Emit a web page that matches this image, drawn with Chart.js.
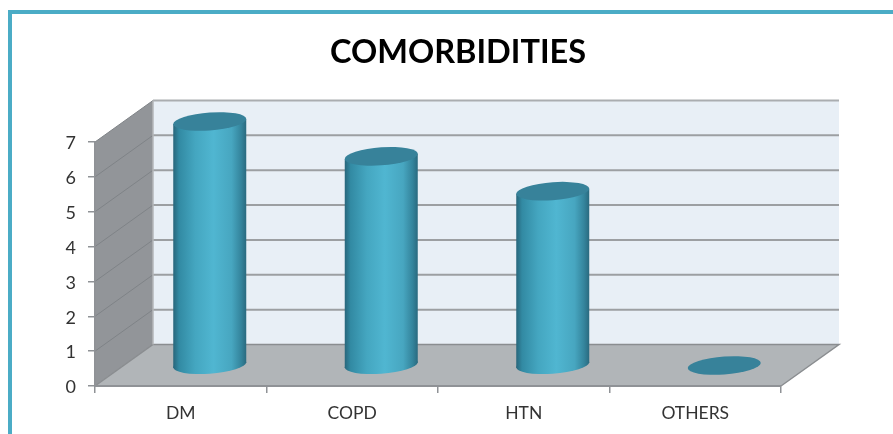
<!DOCTYPE html>
<html>
<head>
<meta charset="utf-8">
<title>COMORBIDITIES</title>
<script src="https://cdn.jsdelivr.net/npm/chart.js@4"></script>
<style>
  html, body { margin: 0; background: #fff; }
  #wrap { position: relative; width: 893px; height: 434px; overflow: hidden; }
  #frame { position: absolute; left: 8px; top: 10px; width: 900px; height: 440px;
           border-left: 4px solid #4bacc6; border-top: 4px solid #4bacc6; }
  #comorbChart { position: absolute; left: 0; top: 0; }
</style>
</head>
<body>
<div id="wrap">
  <div id="frame"></div>
  <canvas id="comorbChart" width="893" height="434"></canvas>
</div>
<script>
const categories = ["DM", "COPD", "HTN", "OTHERS"];
const patientCounts = [7, 6, 5, 0];
const yMax = 7;

// how far the back wall sits behind the axis plane
const DEPTH_X = 58;
const DEPTH_Y = -41.5;
// the cylinders stand half way into the floor, and lean a little
const BAR_X = 29;
const BAR_Y = -20.5;
const BAR_TILT = 0.07;

const CAP_COLOR = "#37829a";

function barGradient(chart, center, halfWidth) {
  const g = chart.ctx.createLinearGradient(center - halfWidth, 0, center + halfWidth, 0);
  g.addColorStop(0, "#28667b");
  g.addColorStop(0.08, "#328aa3");
  g.addColorStop(0.3, "#44a6c0");
  g.addColorStop(0.55, "#50b6d1");
  g.addColorStop(0.8, "#47a6c0");
  g.addColorStop(0.93, "#34849c");
  g.addColorStop(1, "#2a6a7f");
  return g;
}

function ellipse(ctx, x, y, rx, fill) {
  ctx.beginPath();
  ctx.ellipse(x, y, rx, 9, 0, 0, Math.PI * 2);
  ctx.fillStyle = fill;
  ctx.fill();
}

// side wall, back wall and floor, placed from the chart's own scales
const room3d = {
  id: "room3d",
  beforeDraw(chart) {
    const { ctx, chartArea: a, scales: { y } } = chart;
    const bx = DEPTH_X, by = DEPTH_Y;
    ctx.save();

    ctx.fillStyle = "#e8eff6";
    ctx.fillRect(a.left + bx, a.top + by, a.right - a.left, a.bottom - a.top);

    ctx.fillStyle = "#929599";
    ctx.beginPath();
    ctx.moveTo(a.left, a.top);
    ctx.lineTo(a.left + bx, a.top + by);
    ctx.lineTo(a.left + bx, a.bottom + by);
    ctx.lineTo(a.left, a.bottom);
    ctx.closePath();
    ctx.fill();

    ctx.fillStyle = "#b1b5b8";
    ctx.beginPath();
    ctx.moveTo(a.left, a.bottom);
    ctx.lineTo(a.left + bx, a.bottom + by);
    ctx.lineTo(a.right + bx, a.bottom + by);
    ctx.lineTo(a.right, a.bottom);
    ctx.closePath();
    ctx.fill();

    // grid lines run along the side wall and across the back wall
    for (let v = 1; v <= yMax; v++) {
      const py = y.getPixelForValue(v);
      ctx.strokeStyle = "#7f8387";
      ctx.lineWidth = 1;
      ctx.beginPath();
      ctx.moveTo(a.left, py);
      ctx.lineTo(a.left + bx, py + by);
      ctx.stroke();
      ctx.strokeStyle = v === yMax ? "#aaadb0" : "#9c9fa2";
      ctx.lineWidth = 2;
      ctx.beginPath();
      ctx.moveTo(a.left + bx, py + by);
      ctx.lineTo(a.right + bx, py + by);
      ctx.stroke();
    }

    ctx.strokeStyle = "#8a8d90";
    ctx.lineWidth = 1.5;
    ctx.beginPath();
    ctx.moveTo(a.left, a.bottom);
    ctx.lineTo(a.left + bx, a.bottom + by);
    ctx.lineTo(a.right + bx, a.bottom + by);
    ctx.lineTo(a.right, a.bottom);
    ctx.stroke();

    ctx.strokeStyle = "#b4b7ba";
    ctx.lineWidth = 1.5;
    ctx.beginPath();
    ctx.moveTo(a.left + bx, a.bottom + by);
    ctx.lineTo(a.left + bx, a.top + by);
    ctx.stroke();
    ctx.restore();
  },
  // each bar is the library's own element, moved back and leaned, with its two ends added
  beforeDatasetDraw(chart, args) {
    const { ctx } = chart;
    args.meta.data.forEach((bar, i) => {
      const r = bar.width / 2;
      ctx.save();
      ctx.translate(BAR_X, BAR_Y);
      ctx.transform(1, -BAR_TILT, 0, 1, 0, BAR_TILT * bar.x);
      if (patientCounts[i] > 0) {
        ellipse(ctx, bar.x, bar.base, r, barGradient(chart, bar.x, r));
        bar.draw(ctx);
      }
      ellipse(ctx, bar.x, bar.y, r, CAP_COLOR);
      ctx.restore();
    });
    return false;
  },
  // the title is centred over the whole room, not over the axis plane
  afterLayout(chart) {
    chart.titleBlock.left += 135;
  }
};

const config = {
  type: "bar",
  data: {
    labels: categories,
    datasets: [{
      label: "COMORBIDITIES",
      data: patientCounts,
      barPercentage: 0.4257,
      categoryPercentage: 1,
      borderWidth: 0,
      backgroundColor(c) {
        const px = c.chart.scales.x ? c.chart.scales.x.getPixelForValue(c.dataIndex) : NaN;
        if (!Number.isFinite(px)) return CAP_COLOR;
        return barGradient(c.chart, px, 36.5);
      }
    }]
  },
  options: {
    responsive: false,
    animation: false,
    layout: { padding: { left: 0, right: 112, top: 0, bottom: 0 } },
    scales: {
      x: {
        afterFit(scale) { scale.height = 48; },
        grid: { offset: true, drawOnChartArea: false, tickLength: 7, color: "#8f9296", lineWidth: 1.5 },
        border: { color: "#8f9296", width: 2 },
        ticks: { padding: 10, color: "#333", font: { family: "Lato", size: 17.5 } }
      },
      y: {
        min: 0,
        max: yMax,
        afterFit(scale) { scale.width = 95; },
        grid: { drawOnChartArea: false, tickLength: 7, color: "#8f9296", lineWidth: 1.5 },
        border: { color: "#8f9296", width: 1.5 },
        ticks: { stepSize: 1, padding: 12, labelOffset: 1.5, color: "#333", font: { family: "Lato", size: 18 } }
      }
    },
    plugins: {
      legend: { display: false },
      tooltip: { enabled: false },
      title: {
        display: true,
        text: "COMORBIDITIES",
        color: "#000",
        font: { family: "Lato", size: 32.5, weight: "bold", lineHeight: 1.2 },
        padding: { top: 33.5, bottom: 69.5 }
      }
    }
  },
  plugins: [room3d]
};

const ctx = document.getElementById("comorbChart").getContext("2d");
const comorbChart = new Chart(ctx, config);
</script>
</body>
</html>
